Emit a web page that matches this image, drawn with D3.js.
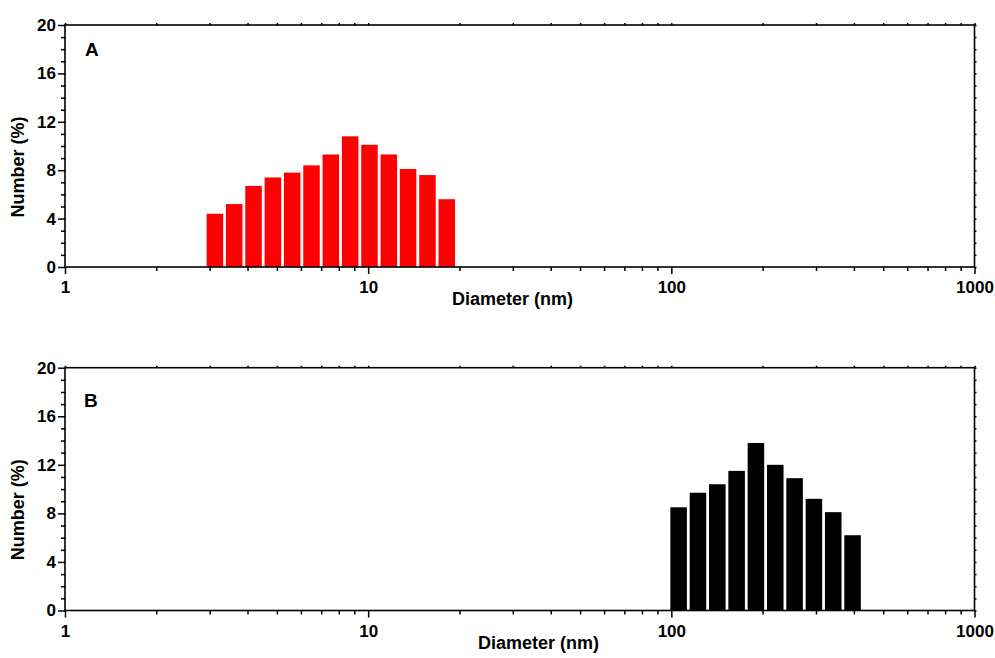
<!DOCTYPE html>
<html>
<head>
<meta charset="utf-8">
<script src="https://cdn.jsdelivr.net/npm/d3@7"></script>
<style>
  html, body { margin: 0; padding: 0; background: #fff; }
  svg { display: block; }
  text { font-family: "Liberation Sans", Arial, sans-serif; font-weight: bold; fill: #000; }
</style>
</head>
<body>
<svg id="chart" width="995" height="658"></svg>
<script>
// Size distributions by number (Zetasizer bin centres, nm)
const diametersA = [3.122, 3.615, 4.187, 4.849, 5.615, 6.503, 7.531, 8.721, 10.10, 11.70, 13.54, 15.69, 18.17];
const numberA    = [4.4, 5.2, 6.7, 7.4, 7.8, 8.4, 9.3, 10.8, 10.1, 9.3, 8.1, 7.6, 5.6];

const diametersB = [105.7, 122.4, 141.8, 164.2, 190.1, 220.2, 255.0, 295.3, 342.0, 396.1];
const numberB    = [8.5, 9.7, 10.4, 11.5, 13.8, 12.0, 10.9, 9.2, 8.1, 6.2];

const xTickValues = [1, 10, 100, 1000];
const xTickLabels = ["1", "10", "100", "1000"];
const yTickValues = [0, 4, 8, 12, 16, 20];
const yTickLabels = ["0", "4", "8", "12", "16", "20"];

const panelLabels = ["A", "B"];
const barColors = ["#ff0000", "#000000"];
const xTitle = "Diameter (nm)";
const yTitle = "Number (%)";

const svg = d3.select("#chart");

const left = 65, right = 974.5;
const panels = [
  { top: 25,    bottom: 267,   d: diametersA, v: numberA, color: barColors[0], label: panelLabels[0],
    labelPos: [85, 56],  xTitleX: 452, xTitleY: 305 },
  { top: 367.7, bottom: 610.5, d: diametersB, v: numberB, color: barColors[1], label: panelLabels[1],
    labelPos: [84, 407], xTitleX: 478, xTitleY: 649 }
];

const x = d3.scaleLog().domain([1, 1000]).range([left, right]);

// minor ticks: 2..9 in each decade
const minorX = [];
[1, 10, 100].forEach(dec => { for (let k = 2; k <= 9; k++) minorX.push(dec * k); });
const minorY = d3.range(0, 21, 1).filter(v => v % 4 !== 0);

panels.forEach(p => {
  const y = d3.scaleLinear().domain([0, 20]).range([p.bottom, p.top]);
  const g = svg.append("g");

  // bars span one size bin on the log axis
  const n = p.d.length;
  const ratio = Math.pow(p.d[n - 1] / p.d[0], 1 / (n - 1));
  const half = Math.sqrt(ratio);
  const inset = 1.4;
  g.append("g").selectAll("rect")
    .data(p.d.map((d, i) => ({ d, v: p.v[i] })))
    .join("rect")
    .attr("x", e => x(e.d / half) + inset)
    .attr("width", e => x(e.d * half) - x(e.d / half) - 2 * inset)
    .attr("y", e => y(e.v))
    .attr("height", e => y(0) - y(e.v))
    .attr("fill", p.color);

  const styleAxis = sel => {
    sel.select(".domain").remove();
    sel.selectAll("line").attr("stroke", "#000").attr("stroke-width", 1.5);
    sel.selectAll("text").attr("font-size", 17).attr("font-weight", "bold")
      .attr("font-family", "Liberation Sans, Arial, sans-serif").attr("fill", "#000");
  };

  // bottom axis
  g.append("g").attr("transform", `translate(0,${p.bottom})`)
    .call(d3.axisBottom(x).tickValues(minorX).tickSize(4).tickFormat(""))
    .call(styleAxis);
  g.append("g").attr("transform", `translate(0,${p.bottom})`)
    .call(d3.axisBottom(x).tickValues(xTickValues).tickSize(7).tickPadding(7)
      .tickFormat((d, i) => xTickLabels[i]))
    .call(styleAxis);

  // top mirror ticks
  g.append("g").attr("transform", `translate(0,${p.top})`)
    .call(d3.axisTop(x).tickValues(minorX.concat(xTickValues)).tickSize(2).tickFormat(""))
    .call(styleAxis);

  // left axis
  g.append("g").attr("transform", `translate(${left},0)`)
    .call(d3.axisLeft(y).tickValues(minorY).tickSize(4).tickFormat(""))
    .call(styleAxis);
  g.append("g").attr("transform", `translate(${left},0)`)
    .call(d3.axisLeft(y).tickValues(yTickValues).tickSize(7).tickPadding(2)
      .tickFormat((d, i) => yTickLabels[i]))
    .call(styleAxis);

  // right mirror ticks
  g.append("g").attr("transform", `translate(${right},0)`)
    .call(d3.axisRight(y).tickValues(minorY.concat(yTickValues)).tickSize(2).tickFormat(""))
    .call(styleAxis);

  // frame
  g.append("rect")
    .attr("x", left).attr("y", p.top)
    .attr("width", right - left).attr("height", p.bottom - p.top)
    .attr("fill", "none").attr("stroke", "#000").attr("stroke-width", 1.6);

  // titles
  g.append("text")
    .attr("x", p.xTitleX).attr("y", p.xTitleY)
    .attr("font-size", 18)
    .text(xTitle);
  g.append("text")
    .attr("transform", `translate(24,${p.top + 142}) rotate(-90)`)
    .attr("text-anchor", "middle")
    .attr("font-size", 18)
    .text(yTitle);

  // panel letter
  g.append("text")
    .attr("x", p.labelPos[0]).attr("y", p.labelPos[1])
    .attr("font-size", 19)
    .text(p.label);
});
</script>
</body>
</html>
